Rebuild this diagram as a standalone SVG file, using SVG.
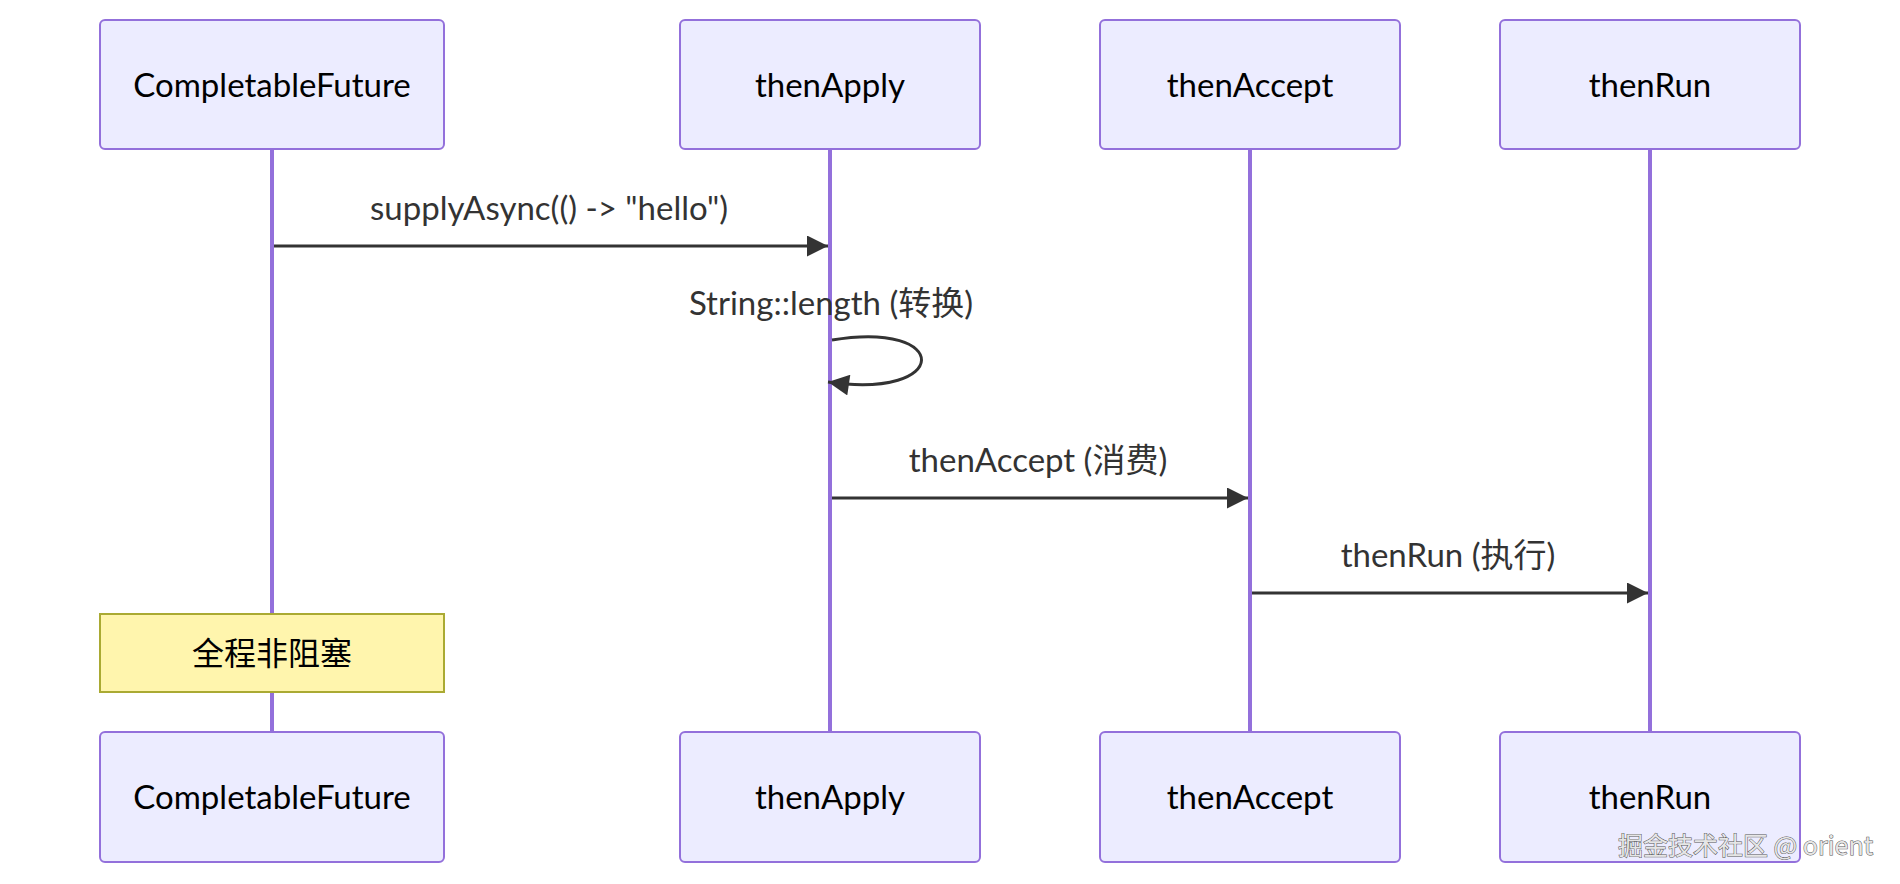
<svg xmlns="http://www.w3.org/2000/svg" width="1900" height="884" viewBox="0 0 1900 884">
<defs>
<style>
.actor{fill:#ECECFF;stroke:#9370DB;stroke-width:2}
.atext{font-family:Lato,"Noto Sans CJK SC",sans-serif;font-size:33px;fill:#000;text-anchor:middle}
.life{stroke:#9370DB;stroke-width:4}
.msg{stroke:#333;stroke-width:3;fill:none}
.mtext{font-family:Lato,"Noto Sans CJK SC",sans-serif;font-size:33px;fill:#333;text-anchor:middle}
.note{fill:#fff5ad;stroke:#aaaa33;stroke-width:2}
.ntext{font-family:"Noto Sans CJK SC",sans-serif;font-size:32px;fill:#000;text-anchor:middle}
.wm{font-family:"Noto Sans CJK SC","Liberation Sans",sans-serif;font-size:25px;fill:#e6e6e6;stroke:#555;stroke-width:1;paint-order:stroke}
</style>
<marker id="arrow" viewBox="0 0 10 10" refX="10" refY="5" markerUnits="userSpaceOnUse" markerWidth="22" markerHeight="21" orient="auto">
<path d="M0,0 L10,5 L0,10 z" fill="#333"/>
</marker>
</defs>
<rect width="1900" height="884" fill="#fff"/>
<g id="lifelines">
<line class="life" x1="272" y1="149" x2="272" y2="732"/>
<line class="life" x1="830" y1="149" x2="830" y2="732"/>
<line class="life" x1="1250" y1="149" x2="1250" y2="732"/>
<line class="life" x1="1650" y1="149" x2="1650" y2="732"/>
</g>
<g id="actor-cf-top"><rect class="actor" x="100" y="20" width="344" height="129" rx="5"/><text class="atext" x="272" y="97">CompletableFuture</text></g>
<g id="actor-apply-top"><rect class="actor" x="680" y="20" width="300" height="129" rx="5"/><text class="atext" x="830" y="97">thenApply</text></g>
<g id="actor-accept-top"><rect class="actor" x="1100" y="20" width="300" height="129" rx="5"/><text class="atext" x="1250" y="97">thenAccept</text></g>
<g id="actor-run-top"><rect class="actor" x="1500" y="20" width="300" height="129" rx="5"/><text class="atext" x="1650" y="97">thenRun</text></g>
<g id="connectors">
<line class="msg" x1="274" y1="246" x2="828" y2="246" marker-end="url(#arrow)"/>
<text class="mtext" x="549" y="220">supplyAsync(() -&gt; "hello")</text>
<path class="msg" d="M832,340 C952,320 952,400 828,382" marker-end="url(#arrow)"/>
<text class="mtext" x="831" y="315">String::length (转换)</text>
<line class="msg" x1="832" y1="498" x2="1248" y2="498" marker-end="url(#arrow)"/>
<text class="mtext" x="1038" y="472">thenAccept (消费)</text>
<line class="msg" x1="1252" y1="593" x2="1648" y2="593" marker-end="url(#arrow)"/>
<text class="mtext" x="1448" y="567">thenRun (执行)</text>
</g>
<g id="note"><rect class="note" x="100" y="614" width="344" height="78"/><text class="ntext" x="272" y="665">全程非阻塞</text></g>
<g id="actor-cf-bottom"><rect class="actor" x="100" y="732" width="344" height="130" rx="5"/><text class="atext" x="272" y="809">CompletableFuture</text></g>
<g id="actor-apply-bottom"><rect class="actor" x="680" y="732" width="300" height="130" rx="5"/><text class="atext" x="830" y="809">thenApply</text></g>
<g id="actor-accept-bottom"><rect class="actor" x="1100" y="732" width="300" height="130" rx="5"/><text class="atext" x="1250" y="809">thenAccept</text></g>
<g id="actor-run-bottom"><rect class="actor" x="1500" y="732" width="300" height="130" rx="5"/><text class="atext" x="1650" y="809">thenRun</text></g>
<text class="wm" x="1618" y="855">掘金技术社区 @ orient</text>
</svg>
